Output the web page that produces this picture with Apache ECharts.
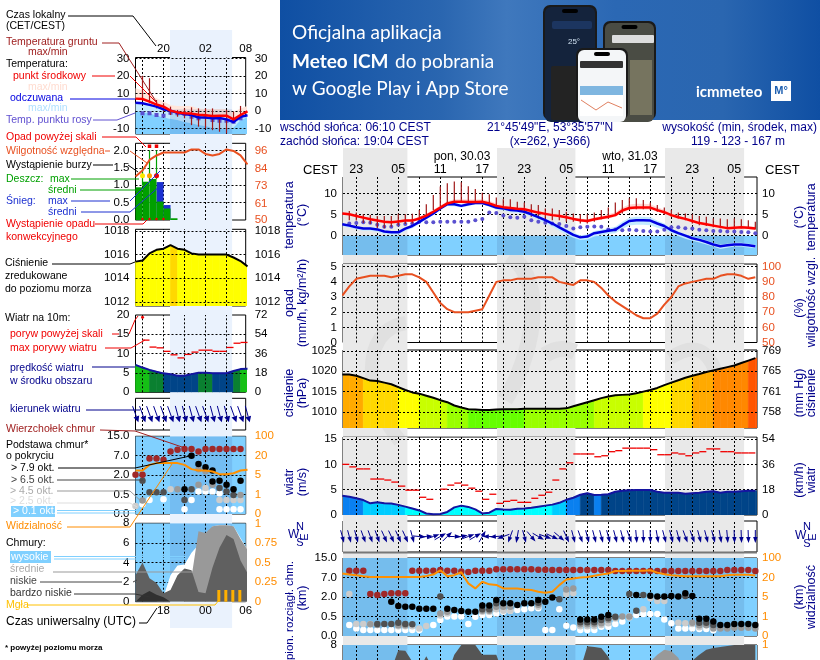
<!DOCTYPE html>
<html>
<head>
<meta charset="utf-8">
<title>Meteogram ICM</title>
<style>
  html, body { margin: 0; padding: 0; background: #fff; }
  #chart { width: 820px; height: 660px; overflow: hidden; }
</style>
<script src="https://cdn.jsdelivr.net/npm/echarts@6/dist/echarts.min.js"></script>
</head>
<body>
<div id="chart"></div>
<script>
// ---- main meteogram, one value per hour (index 2 = 23:00 CEST) ----
var tempMid   = [5.3,5.1,4.7,4.3,3.9,3.6,3.3,3.2,3.4,3.6, 3.6,4.1,4.8,5.7,6.7,7.7,8.1,8.1,8.0,8.0, 8.1,7.7,7.1,6.8,6.6,6.4,6.3,5.9,5.5,5.2, 4.9,4.7,4.4,4.0,3.7,3.5,3.9,4.2,4.5,4.9, 6.0,6.6,6.7,6.7,6.7,6.1,5.6,4.9,4.4,4.0, 3.5,3.0,2.7,2.4,2.1,1.8,1.9,2.0,1.9,1.7];
var tempMax   = [5.7,5.4,5.0,4.6,4.2,3.9,3.6,3.5,3.7,3.9, 4.0,4.5,5.2,6.2,7.2,8.2,8.7,8.7,8.6,8.6, 8.7,8.3,7.7,7.4,7.1,6.9,6.8,6.4,6.0,5.7, 5.4,5.2,4.8,4.4,4.1,3.9,4.3,4.7,5.1,5.6, 6.7,7.4,7.6,7.6,7.5,6.8,6.2,5.4,4.8,4.4, 3.9,3.4,3.1,2.8,2.5,2.2,2.3,2.4,2.3,2.1];
var tempMin   = [5.0,4.8,4.4,4.0,3.6,3.3,3.0,2.9,3.1,3.3, 3.3,3.8,4.5,5.4,6.3,7.3,7.7,7.7,7.6,7.6, 7.7,7.3,6.7,6.4,6.2,6.0,5.9,5.5,5.1,4.8, 4.5,4.3,4.0,3.6,3.3,3.1,3.5,3.8,4.1,4.5, 5.5,6.1,6.2,6.2,6.2,5.7,5.2,4.5,4.0,3.6, 3.1,2.6,2.3,2.0,1.7,1.4,1.5,1.6,1.5,1.3];
var feelsMid  = [2.7,2.4,2.0,1.7,1.7,1.5,1.0,0.8,0.8,1.7, 2.3,3.3,4.3,5.3,6.5,7.5,7.5,7.1,7.5,7.8, 7.8,7.3,6.7,6.5,6.1,6.0,5.7,5.1,4.4,3.7, 2.9,2.0,1.1,0.2,-0.4,-0.2,0.6,0.9,1.2,1.4, 2.5,3.5,3.7,3.7,3.6,2.9,2.3,1.3,0.6,0, -0.6,-1.0,-1.5,-2.1,-2.5,-2.3,-2.1,-2.1,-2.3,-2.5];
var feelsMax  = [3.0,2.7,2.3,2.0,2.0,1.8,1.3,1.1,1.1,2.0, 2.6,3.6,4.6,5.6,6.8,7.8,7.8,7.4,7.8,8.1, 8.1,7.6,7.0,6.8,6.4,6.3,6.0,5.4,4.7,4.0, 3.3,2.4,1.6,0.7,0.1,0.3,1.1,1.5,1.8,2.1, 3.3,4.3,4.5,4.5,4.4,3.6,2.9,1.8,1.0,0.4, -0.2,-0.6,-1.1,-1.7,-2.1,-1.9,-1.7,-1.7,-1.9,-2.1];
var feelsMin  = [2.2,1.9,1.5,1.2,1.2,0.9,0.4,0.1,0.2,1.1, 1.8,2.8,3.9,5.0,6.2,7.1,7.0,6.7,7.1,7.4, 7.4,6.9,6.2,6.0,5.6,5.4,5.1,4.5,3.7,3.0, 2.1,1.2,0.3,-0.5,-1.0,-0.9,-0.2,0.1,0.4,0.6, 1.6,2.4,2.6,2.6,2.5,1.9,1.4,0.6,-0.1,-0.7, -1.2,-1.6,-2.1,-2.6,-3.2,-2.9,-2.6,-2.6,-2.8,-3.0];
var dewPoint  = [null,2.9,3.0,3.2,3.1,2.6,2.1,2.1,2.6,2.8, 2.9,3.3,3.2,3.2,3.3,3.3,3.3,3.3,3.3,3.7, 4.0,5.5,5.4,4.8,4.4,4.3,4.5,3.7,3.3,3.1, 2.9,2.8,2.3,1.7,2.0,2.1,2.2,2.1,1.5,1.5, 1.3,1.4,1.3,1.1,1.0,1.0,1.4,2.0,2.0,1.8, 1.7,1.4,1.3,1.1,1.1,1.0,1.0,0.9,0.8,0.6];
var groundMax = [null,5.9,5.5,5.1,4.9,4.7,4.7,4.7,5.2,5.1, 5.2,6.1,7.5,9.7,11.7,12.5,12.9,12.7,11.8,11.1, 10.2,9.9,9.1,8.7,8.7,8.1,7.9,7.5,7.3,6.5, 6.5,6.1,5.7,5.3,5.1,5.1,5.5,6.1,6.7,7.9, 8.5,8.9,8.9,8.5,7.9,7.3,6.7,6.1,5.5,5.3, 5.1,4.7,4.5,4.1,4.1,3.9,4.1,3.9,3.7,3.3];
var groundMin = [null,3.7,3.6,3.0,2.8,1.8,1.8,2.1,2.4,2.8, 2.9,3.7,4.5,6.1,7.0,7.7,8.1,8.1,7.9,7.7, 7.7,7.3,6.7,6.5,6.2,5.9,5.3,4.5,4.1,3.9, 3.7,3.7,3.3,3.3,2.9,2.9,3.3,3.9,4.1,4.9, 5.3,6.1,6.3,6.3,6.1,5.7,4.9,4.5,4.1,3.7, 2.9,2.5,2.3,2.0,1.8,1.8,1.8,1.8,1.8,1.5];
var humidity  = [81,87,92,93,94,94,94,93,94,95, 95,93,90,83,76,72,70,70,70,71, 72,81,90,91,91,92,92,92,93,93, 93,90,89,88,91,91,90,86,81,77, 74,71,68,66,66,69,75,80,87,89, 90,91,92,92,94,95,95,94,92,93];
var pressure  = [1019.2,1019.2,1018.9,1018.3,1017.7,1017.6,1017.2,1016.8,1016.1,1015.4, 1014.8,1014.5,1014,1013.5,1012.9,1012.4,1011.6,1011.1,1010.7,1010.6, 1010.5,1010.5,1010.6,1010.65,1010.7,1010.7,1010.8,1010.8,1010.8,1010.8, 1010.8,1010.8,1010.9,1011.4,1011.9,1012.4,1012.9,1013.4,1013.8,1014.1, 1014.2,1014.3,1014.6,1015,1015.4,1015.9,1016.6,1017.2,1017.8,1018.4, 1018.9,1019.3,1019.8,1020.2,1020.6,1021,1021.4,1022,1022.6,1023.2];
var windMean  = [3.8,3.6,3.3,2.95,2.3,2.5,2.3,2.25,2.0,1.65, 1.3,0.9,0.3,0.15,0.2,0.6,1.5,1.85,1.6,1.1, 0.3,0.45,1.2,1.1,1.05,1.25,1.3,1.45,1.65,1.85, 2.05,2.4,3.0,3.4,4.0,4.3,3.95,4.0,4.1,4.6, 4.8,4.9,4.95,4.95,4.95,4.6,4.4,4.4,4.4,4.2, 4.3,4.4,4.6,4.7,4.4,4.6,4.6,4.7,4.8,4.8];
var windGust  = [10,9.5,9.1,9.1,7.1,7.1,6.9,6.5,5.7,4.9, 4.9,3.5,3.1,null,5.1,5.9,6.3,5.9,5.3,4.7, 3.1,4.1,2.3,2.7,2.9,2.5,2.5,3.3,3.9,4.5, 6.9,9.1,10.3,12.05,12.05,12.05,11.5,11.7,12.5,12.7, 13.2,13.2,13.2,13.2,12.9,11.9,11.9,12.25,12.05,11.7, 12.25,12.5,13.05,13.05,12.5,12.5,12.25,12.25,12.25,12.25];
var windDir   = [165,165,165,160,160,160,155,155,155,155, 165,95,85,70,60,45,90,80,70,60, 30,270,265,250,200,190,165,140,120,110, 115,130,155,165,160,165,165,165,165,165, 165,160,175,178,178,170,165,165,165,160, 160,165,165,165,170,175,178,178,178,180];
// cloud heights are given in steps of the nonlinear axis: 0, 1, 2, 3, 4 = 0, 0.5, 2, 7, 15 km
var cloudTop  = [3.35,3.35,3.35,3.35,2.15,2.10,2.15,2.19,2.19,2.19, 3.35,3.35,3.35,3.35,3.38,3.35,3.35,3.31,3.28,3.35, 3.35,3.35,3.42,3.42,3.42,3.42,3.42,3.42,3.40,3.40, 3.38,3.38,3.38,3.38,3.38,3.38,3.38,3.38,3.38,3.33, 3.33,3.33,3.33,3.33,3.33,3.33,3.33,3.33,3.33,3.33, 3.33,3.33,3.33,3.33,3.33,3.38,3.38,3.38,3.38,3.33];
var visibility= [3.2,3.15,3.12,3.07,3.03,3.03,3.03,3.03,3.03,3.03, 3.03,3.03,3.08,3.15,3.37,3.07,3.12,3.27,2.70,2.44, 2.78,2.65,2.62,2.44,2.44,2.44,2.39,2.36,2.27,2.22, 2.27,2.61,2.90,2.95,3.0,3.03,3.09,3.15,3.2,3.33, 3.33,3.35,3.35,3.35,3.37,3.25,3.17,3.12,3.09,3.07, 3.07,3.07,3.07,3.07,3.07,3.12,3.14,3.14,3.14,3.10];
var baseBlack = [[7,1.76],[8,1.54],[9,1.5],[10,1.5],[11,1.4],[12,1.4],[13,1.4],[15,1.4],[16,1.33],[17,1.28],[18,1.25],[19,1.25],[20,1.56],[21,1.56],[22,1.85],[23,1.68],[24,1.68],[25,1.59],[26,1.68],[27,1.68],[28,1.85],[29,1.76],[30,1.97],[34,.85],[35,.85],[36,.85],[37,.99],[38,1.08],[42,2.1],[44,2.07],[45,2.02],[46,2.02],[47,2.05],[48,2.02],[49,2.19],[50,2.05],[51,.89],[52,.89],[53,.74],[54,.56],[55,.56],[56,.62],[57,.62],[58,.62],[59,.56]];
var baseDark  = [[5,.62],[6,.62],[7,.62],[8,.68],[9,.62],[10,.6],[14,2.02],[20,1.37],[21,1.37],[22,1.68],[28,1.7],[31,1.88],[34,.7],[35,.7],[36,.7],[37,.82],[38,.91],[39,.99],[41,2.15],[42,1.3],[43,2.1],[49,2.05],[51,.68],[52,.68],[53,.56]];
var baseMid   = [[4,.6],[5,.56],[8,.55],[9,.55],[14,1.15],[15,1.25],[20,1.3],[21,1.3],[22,1.5],[23,1.5],[24,1.5],[28,1.6],[32,2.39],[33,2.44],[34,.6],[35,.6],[36,.6],[37,.65],[38,.82],[39,.95],[40,1],[41,1],[50,.68],[51,.55],[52,.55],[53,.39],[54,.39],[55,.39],[56,.42],[57,.42],[58,.42],[59,.39]];
var baseLight = [[1,2.15],[2,.62],[3,.62],[4,.62],[8,.5],[9,.5],[10,.5],[11,.39],[12,.51],[14,1.05],[15,1.16],[20,1.25],[21,1.25],[22,1.37],[23,1.3],[24,1.3],[28,1.5],[32,2.15],[33,2.19],[34,.5],[35,.5],[36,.5],[37,.56],[38,.65],[39,.9],[41,.95],[43,1.37],[44,1.93],[45,1.79],[46,1.79],[48,.68],[49,.65],[50,.62],[51,.45]];
var baseWhite = [[0,1.8],[1,.56],[2,.39],[3,.31],[4,.31],[5,.31],[6,.31],[7,.31],[8,.31],[9,.31],[10,.31],[11,.31],[13,.56],[14,.82],[15,1],[16,1],[17,1],[18,.62],[19,.99],[20,1.08],[21,1.08],[22,1.16],[23,1.25],[24,1.3],[25,1.33],[26,1.37],[27,1.42],[28,1.42],[29,.31],[30,.31],[31,1.37],[32,.53],[33,.43],[34,.31],[35,.31],[36,.31],[37,.48],[38,.48],[39,.62],[40,.74],[41,1],[42,1.08],[43,1.13],[44,1.13],[45,1.13],[46,.85],[47,.65],[48,.39],[49,.39],[50,.39],[51,.36],[52,.36],[53,.3]];
var cloudLow  = [0,0,0,0,0,0,0,5.5,7.45,7.4, 6.3,5.5,6.84,5.5,5,5,7,8,8,8, 7,7,7,5,4,4,3,3,3,3, 3,3,3,4,5.5,7.86,7.8,7.7,6.8,5, 4,4,4,4,4,4,4,4,4,5, 6.4,7,7.5,7.7,7.8,7.9,8,8,8,8];
var cloudMid  = [0,0,0,0,0,0,0,0,0,0, 0,0,0,0,0,0,0,0,0,0, 0,0,0,0,0,0,0,0,0,0, 0,0,0,0,0,0,0,0,0,0, 0,0,0,5,6.3,7,7.5,7.35,6.7,5, 0,0,0,0,0,0,0,0,0,0];

// ---- legend meteogram, one value per hour (index 4 = 20:00 CEST) ----
var legTempMid  = [7.1,6.9,5.4,3.7,2.5,0.2,-0.8,-1.3,-1.5,-2.1,-2.5,-2.9,-2.7,-2.7,-4.8,-2.3,-0.2];
var legPink     = [13,11.7,9.2,7.3,5.4,3.5,2.9,2.9,2.9,1.5,1.2,1.2,1.2,1.2,-0.4,1.5,3];
var legFeelsMid = [4.8,4.4,3.5,2.5,1,0.2,-1,-1.7,-2.3,-3.7,-3.8,-4.2,-4.0,-4.8,-6.3,-3.3,-2.4];
var legPale     = [0,-0.6,-1.5,-2.5,-3.7,-4.5,-5.2,-6.3,-7.1,-8.1,-8.6,-9.8,-10.2,-10.5,-9.4,-5.2,-3.5];
var legDew      = [null,-1.3,-1.3,-2.3,-2.7,-1,-1.3,-1.7,-3.3,-4.2,-3.3,-5.2,-5.6,-5.6,-6.2,-4.2,null];
var legGroundMax= [null,20.2,18.8,6.3,4.4,2.5,0.6,1.5,2.1,1.5,1.5,1.5,-2.3,0.6,-0.4,2.9,null];
var legGroundMin= [null,6.3,4.4,1.5,-0.4,-2.3,-3.3,-4.2,-8.1,-9,-10,-11,-11.9,-12.9,-6.2,-4.2,null];
var legHumidity = [79,83,90,93,95,95,95,95,97,97,94,93,94,97,96,93,87];
var legRainMean = [0.94,1.1,1.18,0.53,0.33,0.05];
var legRainMax  = [1.5,2.0,2.0];
var legSnowMax  = [0,0,0,1.09,0.43,0];
var legPressure = [1015.4,1015.5,1016.1,1016.4,1016.5,1016.8,1016.5,1016.4,1016.1,1016,1016,1016,1016,1016,1015.75,1015.45,1015.0];
var legWindMean = [7.1,6.4,5.8,5.3,4.9,4.7,4.3,4.3,4.7,5.05,5.05,4.95,4.95,4.95,5.5,6.0,6.1];
var legGust     = [null,13.5,11.7,11.5,10.6,9.7,8.9,9.8,10.4,10.9,10.9,10.6,10.6,11.6,12.7,12.9];
var legWindDir  = [160,160,160,160,160,160,165,165,165,160,160,165,165,165,160,160,165];
var legTop      = [2.02,2.02,2.86,2.86,2.79,3.22,3.31,3.34,3.34,3.22,3.34,3.34,3.34,3.34,3.34,3.34,3.34];
var legVis      = [2.24,2.24,2.53,2.62,2.62,2.62,2.62,2.53,2.31,2.24,2.24,2.19,2.05,2.05,2.1,2.24,2.28];
var legBlack    = [[7,1.28],[8,3],[9,2.57],[10,2.41],[11,2.24],[11,1.67],[12,1.71],[13,1.5],[14,1.28],[15,1.71]];
var legDark     = [[1,1.71],[2,1.12],[3,1.12],[4,1.12],[7,.72],[8,1.28],[12,1.34],[13,1.16],[14,.98],[16,1.67]];
var legMid      = [[1,.69],[6,1.28],[9,1.5],[9,2.31],[10,2.2],[11,1.5],[15,.98]];
var legLight    = [[0,.41],[5,1.28],[10,1.34],[12,.72],[13,.72],[14,.72],[15,.72],[16,.72]];
var legWhite    = [[1,.5],[2,.72],[4,.76],[7,.24],[8,.72],[9,1.16],[10,1.16],[11,1.16],[12,1.07],[12,.24],[13,.24],[14,.24],[15,.24]];
var legHigh     = [0,0,0,0,0.5,2.7,3.7,3.8,5,5.8,6,7.7,7.8,7.8,7.7,6.5,5.3];
var legMidCloud = [0,0,0,0,0,0,0,0,2.5,7.2,7,7.7,7.8,7.8,7.7,6.4,5.3];
var legLow      = [2.7,4,2.4,1.9,0.85,1.2,2.7,3.4,3.2,1,0.85,3.5,5.5,6.8,6.4,4.2,2.9];
var legVeryLow  = [0,0.7,1.1,0.7,0.45,0,0,0,0,0,0,0,0,0,0,0,0];
var legFog      = [[11.9,0.15],[12.9,0.15],[13.9,0.15],[14.9,0.15]];

// ---- ticks ----
var gridHours   = [2,5,8,11,14,17,20,23,26,29,32,35,38,41,44,47,50,53,56];
var hourTicks   = [2,8,14,20,26,32,38,44,50,56];
var hourLabels  = ['23','05','11','17','23','05','11','17','23','05'];
var nightMain   = [[0.1,9.3],[22.1,33.3],[46.1,57.4]];
var legGridHours= [1,4,7,10,13];
var legTopTicks = [4,10,15.74];
var legTopLabels= ['20','02','08'];
var legUtcLabels= ['18','00','06'];
var nightLeg    = [[4.93,13.8]];
var cloudTicks  = [0,1,2,3,4];
var cloudKm     = ['0.0','0.5','2.0','7.0','15.0'];
var cloudVisKm  = ['0','1','5','20','100'];

var SANS = '"Liberation Sans", Arial, sans-serif';
var NAVY = '#00008b', ORANGE = '#ff8c00', HUM = '#e85020';
var grids = [], xAxes = [], yAxes = [], series = [];

function lookup(ticks, labels) {
  return function (v) { var k = ticks.indexOf(v); return k < 0 ? '' : labels[k]; };
}

// one grid with a left and a right value axis
function addPanel(o) {
  var g = grids.length;
  grids.push({ left: o.left, top: o.top, width: o.width, height: o.height, show: !o.bare,
    borderColor: o.border || '#000', borderWidth: 1, backgroundColor: 'transparent', containLabel: false });
  var xLabel = { show: !!o.xTicks };
  if (o.xTicks) {
    xLabel = { show: true, customValues: o.xTicks, formatter: lookup(o.xTicks, o.xLabels), margin: o.xMargin,
      color: '#000', fontFamily: SANS, fontSize: o.xFont || 11.5 };
  }
  xAxes.push({ type: 'value', gridIndex: g, min: o.xMin, max: o.xMax, position: o.xPos || 'bottom',
    axisLine: { show: false }, axisTick: { show: false }, splitLine: { show: false }, axisLabel: xLabel });
  function yAxis(side, ticks, labels, color, mn, mx, margin) {
    return { type: 'value', gridIndex: g, position: side, min: mn, max: mx, axisLine: { show: false }, axisTick: { show: false }, splitLine: { show: false },
      axisLabel: ticks ? { customValues: ticks, formatter: lookup(ticks, labels), margin: margin, color: color, fontFamily: SANS, fontSize: 11.5 } : { show: false } };
  }
  yAxes.push(yAxis('left', o.lTicks, o.lLabels, '#000', o.yMin, o.yMax, o.lMargin));
  yAxes.push(yAxis('right', o.rTicks, o.rLabels, o.rColor || '#000',
    o.rMin === undefined ? o.yMin : o.rMin, o.rMax === undefined ? o.yMax : o.rMax, o.rMargin));
  return { g: g, xMin: o.xMin, xMax: o.xMax, yMin: o.yMin, yMax: o.yMax };
}

function base(p, type, z, right) {
  return { type: type, xAxisIndex: p.g, yAxisIndex: p.g * 2 + (right ? 1 : 0), z: z, silent: true, animation: false };
}
function lineS(p, vals, color, width, z, right) {
  var s = base(p, 'line', z, right);
  s.data = vals.map(function (v, i) { return [i, v]; });
  s.symbol = 'none'; s.lineStyle = { color: color, width: width };
  return s;
}
function areaS(p, vals, fill, z) {
  var s = lineS(p, vals, fill, 0, z);
  s.areaStyle = { color: fill, opacity: 1, origin: 'start' };
  return s;
}
// polygon between two curves, drawn through the axis scale
function bandS(p, xs, lo, hi, fill, z) {
  var s = base(p, 'custom', z);
  s.clip = true;
  s.encode = { x: 0, y: 1 };
  s.data = [[xs[0], lo[0]]];
  s.renderItem = function (params, api) {
    var pts = [], k;
    for (k = 0; k < xs.length; k++) pts.push(api.coord([xs[k], hi[k]]));
    for (k = xs.length - 1; k >= 0; k--) pts.push(api.coord([xs[k], lo[k]]));
    return { type: 'polygon', shape: { points: pts }, style: { fill: fill } };
  };
  return s;
}
function rangeBands(p, ranges, y0, y1, fill, z) {
  return ranges.map(function (r) { return bandS(p, [r[0], r[1]], [y0, y0], [y1, y1], fill, z); });
}
// fill under a curve, coloured hour by hour
function columnS(p, vals, colorOf, z) {
  var s = base(p, 'custom', z);
  s.clip = true;
  s.encode = { x: 0, y: 1 };
  s.data = vals.map(function (v, i) { return [i, v, vals[i + 1] === undefined ? v : vals[i + 1]]; });
  s.renderItem = function (params, api) {
    var x = api.value(0), c = colorOf(api.value(1));
    return { type: 'polygon', shape: { points: [api.coord([x, api.value(1)]), api.coord([x + 1, api.value(2)]), api.coord([x + 1, p.yMin]), api.coord([x, p.yMin])] },
      style: { fill: c, stroke: c, lineWidth: 0.6 } };
  };
  return s;
}
function stemS(p, tops, bottoms, color, z) {
  var s = base(p, 'custom', z);
  s.encode = { x: 0, y: 1 };
  s.data = [];
  tops.forEach(function (v, i) { if (v !== null) s.data.push([i, v, bottoms[i]]); });
  s.renderItem = function (params, api) {
    var a = api.coord([api.value(0), api.value(1)]), b = api.coord([api.value(0), api.value(2)]);
    return { type: 'line', shape: { x1: a[0], y1: a[1], x2: b[0], y2: b[1] }, style: { stroke: color, lineWidth: 1.2 } };
  };
  return s;
}
function arrowS(p, dirs, z, L, hw) {
  var s = base(p, 'custom', z);
  s.encode = { x: 0, y: 1 };
  s.data = dirs.map(function (d, i) { return [i, 0.5, d]; });
  s.renderItem = function (params, api) {
    var c = api.coord([api.value(0), 0.5]), a = api.value(2) * Math.PI / 180;
    var ux = Math.sin(a), uy = -Math.cos(a);
    var hx = c[0] + ux * L, hy = c[1] + uy * L, bx = hx - ux * 6, by = hy - uy * 6;
    return { type: 'group', children: [
      { type: 'line', shape: { x1: c[0] - ux * L, y1: c[1] - uy * L, x2: bx, y2: by }, style: { stroke: '#000090', lineWidth: 1 } },
      { type: 'polygon', shape: { points: [[hx, hy], [bx - uy * hw, by + ux * hw], [bx + uy * hw, by - ux * hw]] }, style: { fill: '#000090' } }
    ] };
  };
  return s;
}
function dotS(p, rows, color, size, z, symbol) {
  var s = base(p, 'scatter', z);
  s.data = rows;
  s.symbol = symbol || 'circle'; s.symbolSize = size;
  s.itemStyle = { color: color, opacity: 1 };
  return s;
}
function seqDots(vals, shift) {
  var out = [];
  vals.forEach(function (v, i) { if (v !== null) out.push([i + (shift || 0), v]); });
  return out;
}
function gridS(p, xs, ys) {
  var s = base(p, 'line', 40);
  s.data = [[p.xMin, p.yMin]];
  s.symbol = 'none'; s.lineStyle = { width: 0 };
  s.markLine = { silent: true, animation: false, symbol: 'none', label: { show: false },
    lineStyle: { color: '#000', width: 1, type: [2, 2] },
    data: xs.map(function (h) { return { xAxis: h }; }).concat(ys.map(function (v) { return { yAxis: v }; })) };
  return s;
}
function pressureColor(v) {
  var edges = [1010.75, 1012.6, 1014.7, 1016.7, 1018.6, 1020.1, 1022.5];
  var cols = ['#66ff00', '#99ff00', '#c8ff00', '#ffff00', '#ffd800', '#ffaa00', '#ff8800', '#ff5500'];
  for (var k = 0; k < edges.length; k++) if (v < edges[k]) return cols[k];
  return cols[edges.length];
}
function windColor(v) {
  if (v < 1.9) return '#00ffff';
  if (v < 3) return '#00ccff';
  if (v < 4) return '#0a80f0';
  if (v < 5) return '#004488';
  if (v < 6) return '#0a8030';
  return '#15c015';
}

// ---- night / sunshine background ----
var bgMain = addPanel({ left: 343, top: 148, width: 414, height: 512, xMin: 0.1, xMax: 59.24, yMin: 0, yMax: 1, bare: true });
var bgLeg = addPanel({ left: 135.5, top: 30, width: 110.2, height: 598, xMin: 0, xMax: 15.74, yMin: 0, yMax: 1, bare: true });
series = series.concat(rangeBands(bgMain, nightMain, 0, 1, '#e9e9e9', 0));
series = series.concat(rangeBands(bgLeg, nightLeg, 0, 1, '#eaf2fd', 0));

var MX = { left: 343, width: 414, xMin: 0.1, xMax: 59.24, lMargin: 6, rMargin: 5 };
var LX = { left: 135.5, width: 110.2, xMin: 0, xMax: 15.74, lMargin: 6, rMargin: 9 };
function mk(b, o) { for (var k in b) if (o[k] === undefined) o[k] = b[k]; return addPanel(o); }
function idx(a) { return a.map(function (v, i) { return i; }); }

// ---- main panels ----
var p = mk(MX, { top: 177, height: 78, yMin: -4.6, yMax: 13.98, lTicks: [0, 5, 10], lLabels: ['0', '5', '10'], rTicks: [0, 5, 10], rLabels: ['0', '5', '10'],
  xTicks: hourTicks, xLabels: hourLabels, xPos: 'top', xMargin: 1, xFont: 12.5 });
series.push(bandS(p, [p.xMin, p.xMax], [p.yMin, p.yMin], [0, 0], '#80d0ff', 3));
series = series.concat(rangeBands(p, nightMain, p.yMin, 0, 'rgba(40,60,110,0.12)', 4));
series.push(bandS(p, idx(tempMid), tempMin, tempMax, '#ffd8d4', 5));
series.push(bandS(p, idx(feelsMid), feelsMin, feelsMax, '#c4ebff', 6));
series.push(gridS(p, gridHours, [0, 5, 10]));
series.push(dotS(p, seqDots(dewPoint), '#5a50d0', 4, 41));
series.push(stemS(p, groundMax, groundMin, '#a01818', 42));
series.push(lineS(p, feelsMid, '#0000e0', 2.5, 43));
series.push(lineS(p, tempMid, '#ff0000', 2.5, 44));

p = mk(MX, { top: 264, height: 78.5, yMin: 0, yMax: 5.18, rMin: 50, rMax: 101.8, lTicks: [0, 1, 2, 3, 4, 5], lLabels: ['0', '1', '2', '3', '4', '5'],
  rTicks: [50, 60, 70, 80, 90, 100], rLabels: ['50', '60', '70', '80', '90', '100'], rColor: HUM });
series.push(gridS(p, gridHours, [1, 2, 3, 4, 5]));
series.push(lineS(p, humidity, HUM, 2, 44, true));

p = mk(MX, { top: 350, height: 78, yMin: 1006.08, yMax: 1025.2, lTicks: [1010, 1015, 1020, 1025], lLabels: ['1010', '1015', '1020', '1025'],
  rTicks: [1010, 1015, 1020, 1025], rLabels: ['758', '761', '765', '769'] });
series.push(columnS(p, pressure, pressureColor, 3));
series.push(gridS(p, gridHours, [1010, 1015, 1020, 1025]));
series.push(lineS(p, pressure, '#000', 2, 44));

p = mk(MX, { top: 437, height: 78, yMin: 0, yMax: 15.4, lTicks: [0, 5, 10, 15], lLabels: ['0', '5', '10', '15'], rTicks: [0, 5, 10, 15], rLabels: ['0', '18', '36', '54'] });
series.push(columnS(p, windMean, windColor, 3));
series.push(gridS(p, gridHours, [5, 10, 15]));
series.push(dotS(p, seqDots(windGust, 0.5), '#f00000', [7, 1.3], 43, 'rect'));
series.push(lineS(p, windMean, '#1414a0', 2, 44));

p = mk(MX, { top: 521, height: 31, yMin: 0, yMax: 1 });
series.push(gridS(p, gridHours, []));
series.push(arrowS(p, windDir, 44, 6.5, 2.2));

p = mk(MX, { top: 558, height: 78, yMin: 0, yMax: 4, lTicks: cloudTicks, lLabels: cloudKm, rTicks: cloudTicks, rLabels: cloudVisKm, rColor: ORANGE });
series.push(bandS(p, [p.xMin, p.xMax], [0, 0], [4, 4], '#80d0ff', 3));
series = series.concat(rangeBands(p, nightMain, 0, 4, 'rgba(40,60,110,0.12)', 4));
series.push(gridS(p, gridHours, [1, 2, 3]));
series.push(dotS(p, baseWhite, '#fff', 6.5, 41));
series.push(dotS(p, baseLight, '#cccccc', 6.5, 42));
series.push(dotS(p, baseMid, '#999999', 6.5, 43));
series.push(dotS(p, baseDark, '#505050', 6.5, 44));
series.push(dotS(p, baseBlack, '#000', 6.5, 45));
series.push(dotS(p, seqDots(cloudTop), '#a02828', 6.5, 46));
series.push(lineS(p, visibility, '#ff9000', 2, 47));

// the last panel runs off the page: only its top 15 px (values above 6.46) are visible
p = mk(MX, { top: 645, height: 15, yMin: 6.46, yMax: 8, lTicks: [8], lLabels: ['8'], rTicks: [8], rLabels: ['1'], rColor: ORANGE });
series.push(bandS(p, [p.xMin, p.xMax], [p.yMin, p.yMin], [8, 8], '#80d0ff', 3));
series = series.concat(rangeBands(p, nightMain, p.yMin, 8, 'rgba(40,60,110,0.12)', 4));
series.push(areaS(p, cloudMid, '#999999', 5));
series.push(areaS(p, cloudLow, '#555555', 6));
series.push(gridS(p, gridHours, []));

// ---- legend panels ----
var LN = 'rgba(30,60,150,0.12)';
p = mk(LX, { top: 57.5, height: 76.5, yMin: -13.2, yMax: 30.7, lTicks: [-10, 0, 10, 20, 30], lLabels: ['-10', '0', '10', '20', '30'], rTicks: [-10, 0, 10, 20, 30], rLabels: ['-10', '0', '10', '20', '30'],
  xTicks: legTopTicks, xLabels: legTopLabels, xPos: 'top', xMargin: 3 });
series.push(bandS(p, idx(legPink), legTempMid, legPink, '#ffe6dc', 3));
series.push(bandS(p, idx(legPale), legPale, legFeelsMid, '#c4ebff', 3));
series.push(bandS(p, idx(legPale), legPale.map(function () { return p.yMin; }), legPale, '#80d0ff', 4));
series = series.concat(rangeBands(p, nightLeg, p.yMin, 1, LN, 5));
series.push(gridS(p, legGridHours, [-10, 0, 10, 20, 30]));
series.push(dotS(p, seqDots(legDew), '#5a50d0', 4, 41, 'rect'));
series.push(stemS(p, legGroundMax, legGroundMin, '#a01818', 42));
series.push(lineS(p, legFeelsMid, '#0000e0', 2.5, 43));
series.push(lineS(p, legTempMid, '#ff0000', 2.5, 44));

p = mk(LX, { top: 143.3, height: 76.7, yMin: 0, yMax: 2.204, rMin: 50, rMax: 101.1, lTicks: [0, 0.5, 1, 1.5, 2], lLabels: ['0.0', '0.5', '1.0', '1.5', '2.0'],
  rTicks: [50, 61, 73, 84, 96], rLabels: ['50', '61', '73', '84', '96'], rColor: HUM });
var snow = base(p, 'bar', 5); snow.barWidth = 7; snow.itemStyle = { color: '#1c30d0' }; snow.data = seqDots(legSnowMax, 0.5);
var rain = base(p, 'bar', 6); rain.barWidth = 7; rain.barGap = '-100%'; rain.itemStyle = { color: '#00a000' }; rain.data = seqDots(legRainMean, 0.5);
series.push(snow, rain);
series.push(gridS(p, legGridHours, [0.5, 1, 1.5, 2]));
series.push(stemS(p, [null].concat(legRainMax), [null, 1.0, 1.1, 1.18], '#00a000', 42));
series.push(lineS(p, legHumidity, HUM, 2, 44, true));
series.push(dotS(p, [[2, 2.12], [3, 2.12]], '#f00000', 3.5, 45, 'rect'));
series.push(dotS(p, [[1, 1.27]], '#ffe800', 5, 46));
series.push(dotS(p, [[2, 1.27]], '#ffa000', 5, 46));
series.push(dotS(p, [[3, 1.27]], '#f00000', 5, 46));
series.push(dotS(p, [[1, 0.03], [2, 0.03], [3, 0.03], [4, 0.03]], '#f00000', 2.5, 46));

p = mk(LX, { top: 229.3, height: 76.7, yMin: 1011.64, yMax: 1018.14, lTicks: [1012, 1014, 1016, 1018], lLabels: ['1012', '1014', '1016', '1018'], rTicks: [1012, 1014, 1016, 1018], rLabels: ['1012', '1014', '1016', '1018'] });
series.push(columnS(p, legPressure, pressureColor, 3));
series.push(gridS(p, legGridHours, [1012, 1014, 1016, 1018]));
series.push(lineS(p, legPressure, '#000', 2, 44));

p = mk(LX, { top: 315, height: 77.3, yMin: 0, yMax: 20, lTicks: [0, 5, 10, 15, 20], lLabels: ['0', '5', '10', '15', '20'], rTicks: [0, 5, 10, 15, 20], rLabels: ['0', '18', '36', '54', '72'] });
series.push(columnS(p, legWindMean, windColor, 3));
series.push(gridS(p, legGridHours, [5, 10, 15]));
series.push(dotS(p, seqDots(legGust, 0.5), '#f00000', [7, 1.3], 43, 'rect'));
series.push(dotS(p, [[1, 19.4]], '#f00000', 3, 43));
series.push(lineS(p, legWindMean, '#1414a0', 2, 44));

p = mk(LX, { top: 398.3, height: 31.7, yMin: 0, yMax: 1 });
series.push(gridS(p, legGridHours, []));
series.push(arrowS(p, legWindDir, 44, 8.5, 3));

p = mk(LX, { top: 436.3, height: 77.7, yMin: 0, yMax: 4, lTicks: cloudTicks, lLabels: cloudKm, rTicks: cloudTicks, rLabels: cloudVisKm, rColor: ORANGE });
series.push(bandS(p, [p.xMin, p.xMax], [0, 0], [4, 4], '#80d0ff', 3));
series = series.concat(rangeBands(p, nightLeg, 0, 4, LN, 4));
series.push(gridS(p, legGridHours, [1, 2, 3]));
series.push(dotS(p, legWhite, '#fff', 6.5, 41));
series.push(dotS(p, legLight, '#cccccc', 6.5, 42));
series.push(dotS(p, legMid, '#999999', 6.5, 43));
series.push(dotS(p, legDark, '#505050', 6.5, 44));
series.push(dotS(p, legBlack, '#000', 6.5, 45));
series.push(dotS(p, seqDots(legTop), '#a02828', 6.5, 46));
series.push(lineS(p, legVis, '#ff9000', 2, 47));

p = mk(LX, { top: 523.3, height: 78.4, yMin: 0, yMax: 8, rMin: 0, rMax: 1.0025, lTicks: [0, 2, 4, 6, 8], lLabels: ['0', '2', '4', '6', '8'],
  rTicks: [0, 0.25, 0.5, 0.75, 1], rLabels: ['0', '0.25', '0.5', '0.75', '1'], rColor: ORANGE,
  xTicks: [4, 10, 15.74], xLabels: legUtcLabels, xMargin: 3 });
series.push(bandS(p, [p.xMin, p.xMax], [0, 0], [8, 8], '#80d0ff', 3));
series = series.concat(rangeBands(p, nightLeg, 0, 8, LN, 4));
series.push(areaS(p, legHigh, '#ffffff', 5));
series.push(areaS(p, legMidCloud, '#999999', 6));
series.push(areaS(p, legLow, '#606060', 7));
series.push(areaS(p, legVeryLow, '#303030', 8));
series.push(gridS(p, legGridHours, [2, 4, 6]));
var fog = base(p, 'bar', 45, true); fog.barWidth = 3; fog.itemStyle = { color: '#ffb000' }; fog.data = legFog;
series.push(fog);

// ---- text and leader lines ----
var gfx = [];
function T(x, y, text, color, size, extra) {
  var e = { type: 'text', x: x, y: y, z: 60, silent: true, rotation: 0,
    style: { text: text, fill: color, font: (size || 10.5) + 'px ' + SANS, textAlign: 'left', textVerticalAlign: 'middle' } };
  if (extra) {
    if (extra.rot) e.rotation = extra.rot;
    if (extra.align) e.style.textAlign = extra.align;
    if (extra.font) e.style.font = extra.font;
  }
  gfx.push(e);
}
function V(x, y, text, extra) {   // rotated axis title
  var o = extra || {};
  T(x, y, text, NAVY, o.size || 12.5, { rot: Math.PI / 2, align: o.align || 'center' });
}
function L(pts, color, w, z) {
  gfx.push({ type: 'polyline', z: z || 59, silent: true, shape: { points: pts }, style: { stroke: color, lineWidth: w || 1, fill: null } });
}
function box(x, y, w, h, fill, z, r) {
  gfx.push({ type: 'rect', z: z === undefined ? 58 : z, silent: true, shape: { x: x, y: y, width: w, height: h, r: r || 0 }, style: { fill: fill } });
}
var BR = '#a02020', RD = '#f00000', GR = '#00a000', BL = '#1c30d0', SL = '#6050d0', LG = '#aaaaaa';

T(6, 15, 'Czas lokalny', '#000'); T(6, 26, '(CET/CEST)', '#000');
L([[68, 16], [133, 16], [156, 46]], '#000');
T(6, 42, 'Temperatura gruntu', BR); T(28, 52, 'max/min', BR);
L([[102, 43], [119, 43], [157, 103]], BR);
T(6, 64, 'Temperatura:', '#000');
T(13, 76, 'punkt środkowy', RD);
L([[92, 76], [115, 76]], RD); L([[130, 76], [157, 103]], RD);
T(28, 87, 'max/min', '#ffdcd0');
T(10, 98, 'odczuwana', '#0000e0'); L([[70, 99], [135, 99]], '#0000e0');
T(28, 108, 'max/min', '#b0e0ff');
T(6, 120, 'Temp. punktu rosy', SL); L([[93, 120], [117, 120], [135, 113]], SL);
T(6, 137, 'Opad powyżej skali', RD); L([[102, 137], [136, 137], [146, 147]], RD);
T(6, 151, 'Wilgotność względna', HUM); L([[105, 151], [110, 151]], HUM); L([[130, 151], [147, 163]], HUM);
T(6, 165, 'Wystąpienie burzy', '#000'); L([[93, 165], [113, 165]], '#000'); L([[128, 165], [138, 172]], '#000');
T(6, 179, 'Deszcz:', GR); T(50, 179, 'max', GR); L([[71, 179], [139, 179]], GR);
T(48, 190, 'średni', GR); L([[80, 190], [140, 190]], GR);
T(6, 201, 'Śnieg:', BL); T(48, 201, 'max', BL); L([[71, 201], [110, 201]], BL); L([[130, 201], [160, 171]], BL);
T(48, 212, 'średni', BL); L([[81, 212], [130, 212], [160, 186]], BL);
T(6, 224, 'Wystąpienie opadu', RD); L([[95, 224], [143, 224], [147, 220]], RD);
T(6, 237, 'konwekcyjnego', RD);
T(5, 263, 'Ciśnienie', '#000'); L([[52, 264], [130, 264], [135, 262]], '#000');
T(5, 276, 'zredukowane', '#000'); T(5, 289, 'do poziomu morza', '#000');
T(5, 318, 'Wiatr na 10m:', '#000');
T(10, 334, 'poryw powyżej skali', RD); L([[112, 334], [119, 334]], RD); L([[129, 334], [135, 320], [138, 316]], RD);
T(10, 348, 'max porywy wiatru', RD); L([[105, 348], [131, 348], [145, 340]], RD);
T(10, 368, 'prędkość wiatru', NAVY); L([[92, 367], [135, 367]], NAVY);
T(10, 381, 'w środku obszaru', NAVY);
T(10, 409, 'kierunek wiatru', NAVY); L([[86, 410], [140, 410]], NAVY);
T(6, 429, 'Wierzchołek chmur', BR); L([[100, 430], [135, 431], [185, 448]], BR);
T(6, 445, 'Podstawa chmur*', '#000'); T(6, 456, 'o pokryciu', '#000');
T(11, 468, '> 7.9 okt.', '#000'); L([[58, 468], [135, 468], [190, 456]], '#000');
T(11, 480, '> 6.5 okt.', '#444'); L([[57, 480], [143, 480]], '#444');
T(10, 491, '> 4.5 okt.', LG); L([[57, 491], [130, 491], [143, 503]], '#999');
T(10, 501, '> 2.5 okt.', '#dddddd'); L([[57, 503], [130, 503], [137, 507]], '#ddd');
box(11, 506, 44, 11, '#80d0ff'); T(13, 511.5, '> 0.1 okt.', '#fff');
L([[57, 510.5], [136, 510.5]], '#80d0ff'); L([[57, 513], [136, 513]], '#80d0ff');
T(6, 526, 'Widzialność', ORANGE); L([[67, 527], [130, 527], [172, 464]], ORANGE);
T(6, 543, 'Chmury:', '#000');
box(10, 551, 41, 12, '#80d0ff'); T(11, 557, 'wysokie', '#fff');
L([[54, 556.5], [186, 556.5]], '#80d0ff'); L([[54, 559], [186, 559]], '#80d0ff');
T(10, 569, 'średnie', LG); L([[53, 572], [193, 572]], '#999');
T(10, 581, 'niskie', '#444'); L([[40, 582], [122, 582]], '#444'); L([[133, 582], [137, 580]], '#444');
T(10, 593, 'bardzo niskie', '#333'); L([[74, 594], [135, 594], [150, 597]], '#333');
T(6, 605, 'Mgła', '#ffc000'); L([[27, 605], [215, 605], [219, 600]], '#ffc000');
T(6, 622, 'Czas uniwersalny (UTC)', '#000', 12); L([[139, 623], [147, 623], [157, 608]], '#000');
T(5, 648, '* powyżej poziomu morza', '#000', 8, { font: 'bold 8px ' + SANS });

// header of the main chart
T(280, 128, 'wschód słońca: 06:10 CEST', NAVY, 12);
T(280, 141.5, 'zachód słońca: 19:04 CEST', NAVY, 12);
T(550, 128, '21°45\'49"E, 53°35\'57"N', NAVY, 12, { align: 'center' });
T(550, 141.5, '(x=262, y=366)', NAVY, 12, { align: 'center' });
T(817, 128, 'wysokość (min, środek, max)', NAVY, 12, { align: 'right' });
T(738, 141.5, '119 - 123 - 167 m', NAVY, 12, { align: 'center' });
T(462, 157, 'pon, 30.03', '#000', 12, { align: 'center' });
T(630, 157, 'wto, 31.03', '#000', 12, { align: 'center' });
T(303, 170, 'CEST', '#000', 13); T(765, 170, 'CEST', '#000', 13);

V(290, 215, 'temperatura'); V(303, 215, '(°C)');
V(812, 217, 'temperatura'); V(800, 217, '(°C)');
V(290, 303, 'opad'); V(303, 303, '(mm/h, kg/m²/h)');
V(812, 302, 'wilgotność wzgl.'); V(800, 308, '(%)');
V(290, 393, 'ciśnienie'); V(303, 393, '(hPa)');
V(812, 393, 'ciśnienie'); V(800, 393, '(mm Hg)');
V(290, 482, 'wiatr'); V(303, 482, '(m/s)');
V(812, 480, 'wiatr'); V(800, 480, '(km/h)');
V(290, 561, 'podstawa pion. rozciągł. chm.', { align: 'right', size: 11.5 }); V(303, 598, '(km)');
V(812, 597, 'widzialność'); V(800, 597, '(km)');
T(288, 535, 'W', NAVY, 12); T(300, 527, 'N', NAVY, 11, { align: 'center' }); T(300, 543, 'S', NAVY, 11, { align: 'center' });
T(305, 537, 'E', NAVY, 11, { rot: Math.PI / 2, align: 'center' });
T(795, 536, 'W', NAVY, 12); T(807, 527, 'N', NAVY, 11, { align: 'center' }); T(807, 544, 'S', NAVY, 11, { align: 'center' });
T(813, 537, 'E', NAVY, 11, { rot: Math.PI / 2, align: 'center' });

// faint logo arcs inside the night bands
var WM = '#e0e0e0';
gfx.push({ type: 'bezierCurve', z: 1, silent: true, shape: { x1: 406, y1: 323, cpx1: 358, cpy1: 330, cpx2: 365, cpy2: 400, x2: 400, y2: 441 }, style: { stroke: WM, lineWidth: 14, fill: null } });
gfx.push({ type: 'bezierCurve', z: 1, silent: true, shape: { x1: 510, y1: 255, cpx1: 550, cpy1: 285, cpx2: 530, cpy2: 360, x2: 505, y2: 400 }, style: { stroke: WM, lineWidth: 16, fill: null } });
gfx.push({ type: 'bezierCurve', z: 1, silent: true, shape: { x1: 545, y1: 355, cpx1: 560, cpy1: 345, cpx2: 570, cpy2: 350, x2: 575, y2: 352 }, style: { stroke: WM, lineWidth: 16, fill: null } });
gfx.push({ type: 'bezierCurve', z: 1, silent: true, shape: { x1: 670, y1: 358, cpx1: 690, cpy1: 345, cpx2: 705, cpy2: 345, x2: 715, y2: 370 }, style: { stroke: WM, lineWidth: 14, fill: null } });

// grey edges between the main panels
L([[343, 263.5], [757, 263.5]], '#888', 1);
L([[343, 436.5], [757, 436.5]], '#aaa', 1);
L([[343, 552.5], [757, 552.5]], '#777', 2);

// advert banner
gfx.push({ type: 'rect', z: 50, silent: true, shape: { x: 280, y: 0, width: 540, height: 120 },
  style: { fill: new echarts.graphic.LinearGradient(0, 0, 1, 0, [
    { offset: 0, color: '#0f4fa3' }, { offset: 0.3, color: '#2a66b0' }, { offset: 0.42, color: '#3f78bd' }, { offset: 0.62, color: '#2b68b4' }, { offset: 0.82, color: '#2a66b0' }, { offset: 1, color: '#0f4fa3' }]) } });
function phone(x, y, w, h, screen, z) {
  gfx.push({ type: 'rect', z: z, silent: true, shape: { x: x, y: y, width: w, height: h, r: 7 }, style: { fill: '#1a1a1a' } });
  gfx.push({ type: 'rect', z: z, silent: true, shape: { x: x + 2, y: y + 2, width: w - 4, height: h, r: 6 }, style: { fill: screen } });
  gfx.push({ type: 'rect', z: z, silent: true, shape: { x: x + w / 2 - 8, y: y + 4, width: 16, height: 4, r: 2 }, style: { fill: '#000' } });
}
phone(543, 5, 54, 115, '#14233c', 51);
box(552, 21, 40, 8, '#1c3560', 52, 2);
box(551, 66, 40, 54, '#232323', 52, 2);
gfx.push({ type: 'text', x: 574, y: 42, z: 53, silent: true, style: { text: '25°', fill: '#cfe0f0', font: '8px ' + SANS, textAlign: 'center', textVerticalAlign: 'middle' } });
phone(603, 21, 53, 99, '#4a4c44', 51);
box(612, 35, 42, 8, '#dddddd', 52, 1);
box(630, 60, 22, 55, '#76745f', 52);
phone(576, 48, 52, 72, '#f4f6f8', 52);
box(580, 61, 43, 7, '#333', 53, 1);
box(580, 86, 43, 9, '#7fb6e0', 53);
box(580, 95, 43, 21, '#ffffff', 53);
L([[581, 100], [596, 110], [608, 102], [622, 108]], '#e08060', 1, 54);
function B(x, y, text, size, weight, align) {
  gfx.push({ type: 'text', x: x, y: y, z: 55, silent: true, style: { text: text, fill: '#fff',
    font: (weight || '') + ' ' + size + 'px Lato, sans-serif', textAlign: align || 'left', textVerticalAlign: 'middle' } });
}
B(292, 33, 'Oficjalna aplikacja', 19);
B(292, 62, 'Meteo ICM', 19, 'bold');
B(395, 62, 'do pobrania', 19);
B(292, 89, 'w Google Play i App Store', 19);
B(696, 92, 'icmmeteo', 15, 'bold');
box(771, 81, 20, 20, '#fff', 54);
gfx.push({ type: 'text', x: 781, y: 91, z: 55, silent: true, style: { text: 'M°', fill: '#1d5fb0', font: 'bold 11px ' + SANS, textAlign: 'center', textVerticalAlign: 'middle' } });

var chart = echarts.init(document.getElementById('chart'));
chart.setOption({
  animation: false,
  backgroundColor: '#fff',
  textStyle: { fontFamily: SANS },
  grid: grids, xAxis: xAxes, yAxis: yAxes, series: series,
  graphic: { elements: gfx }
});
</script>
</body>
</html>
